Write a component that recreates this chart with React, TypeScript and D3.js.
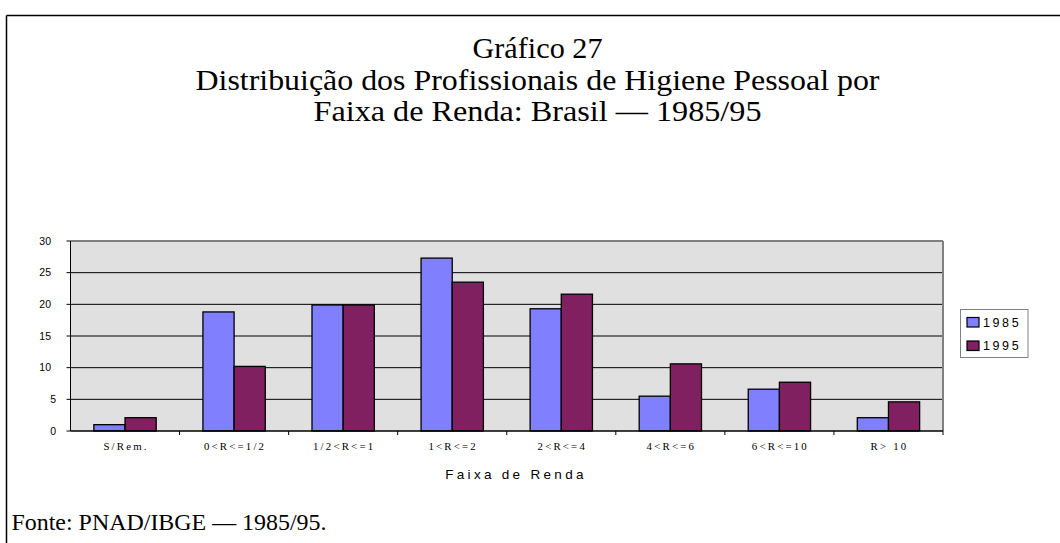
import React from "react";
import * as d3 from "d3";

const categories = ["S/Rem.", "0<R<=1/2", "1/2<R<=1", "1<R<=2", "2<R<=4", "4<R<=6", "6<R<=10", "R> 10"];
const seriesNames = ["1985", "1995"];
const values1985 = [1.0, 18.8, 19.9, 27.3, 19.3, 5.5, 6.6, 2.1];
const values1995 = [2.1, 10.2, 19.9, 23.5, 21.6, 10.6, 7.7, 4.6];
const yTicks = [0, 5, 10, 15, 20, 25, 30];
const colors = ["#8080FF", "#802060"];
const titleLines = ["Gráfico 27", "Distribuição dos Profissionais de Higiene Pessoal por", "Faixa de Renda: Brasil — 1985/95"];
const titleWidths = [130, 684, 448];

export default function App() {
  const W = 1060, H = 543;
  const left = 70.5, right = 943, top = 241, bottom = 431;
  const x = d3.scaleBand<string>().domain(categories).range([left, right]).paddingInner(0).paddingOuter(0);
  const xs = d3.scaleBand<string>().domain(seriesNames).range([0, x.bandwidth()]).paddingInner(0).paddingOuter(0.75);
  const y = d3.scaleLinear().domain([0, 30]).range([bottom, top]);
  const data = [values1985, values1995];
  const serif = "'Liberation Serif', 'Times New Roman', serif";
  const sans = "'Liberation Sans', Arial, sans-serif";

  return (
    <svg width={W} height={H} style={{ position: "absolute", left: 0, top: 0, background: "#fff" }}>
      {/* outer frame (top and left) */}
      <line x1={6.5} x2={W} y1={15.5} y2={15.5} stroke="#000" strokeWidth={1.5} />
      <line x1={6.5} x2={6.5} y1={15.5} y2={H} stroke="#000" strokeWidth={1.5} />

      {titleLines.map((t, i) => (
        <text key={i} x={537.5} y={58 + i * 31.5} textAnchor="middle" fontFamily={serif} fontSize={29.5}
          textLength={titleWidths[i]} lengthAdjust="spacingAndGlyphs" fill="#000">{t}</text>
      ))}

      {/* plot area */}
      <rect x={left} y={top} width={right - left} height={bottom - top} fill="#E0E0E0" />
      {yTicks.slice(1, -1).map((t) => (
        <line key={t} x1={left} x2={right} y1={y(t)} y2={y(t)} stroke="#000" strokeWidth={1} />
      ))}
      <line x1={left} x2={right} y1={top} y2={top} stroke="#808080" strokeWidth={2} />
      <line x1={right} x2={right} y1={top} y2={bottom} stroke="#808080" strokeWidth={2} />

      {/* bars */}
      {categories.map((c, ci) =>
        seriesNames.map((s, si) => {
          const v = data[si][ci];
          const bx = (x(c) as number) + (xs(s) as number);
          return (
            <rect key={c + s} x={bx} y={y(v)} width={xs.bandwidth()} height={bottom - y(v)}
              fill={colors[si]} stroke="#000" strokeWidth={1.3} />
          );
        })
      )}

      {/* axes */}
      <line x1={left} x2={left} y1={top} y2={bottom} stroke="#000" strokeWidth={1} />
      <line x1={left} x2={right} y1={bottom} y2={bottom} stroke="#000" strokeWidth={1.5} />
      {yTicks.map((t) => (
        <g key={t}>
          <line x1={left - 4} x2={left} y1={y(t)} y2={y(t)} stroke="#000" strokeWidth={1} />
          <text x={t >= 10 ? 51 : 56} y={y(t) + 3.6} textAnchor="end" fontFamily={sans} fontSize={10.5} fill="#000">{t}</text>
        </g>
      ))}
      {categories.map((c) => (
        <line key={"tk" + c} x1={(x(c) as number) + x.bandwidth()} x2={(x(c) as number) + x.bandwidth()}
          y1={bottom} y2={bottom + 4} stroke="#000" strokeWidth={1} />
      ))}
      {categories.map((c) => (
        <text key={"lb" + c} x={(x(c) as number) + x.bandwidth() / 2 + 1} y={450} textAnchor="middle"
          fontFamily={serif} fontSize={10.8} letterSpacing={2.2} fill="#000">{c}</text>
      ))}
      <text x={516} y={479} textAnchor="middle" fontFamily={sans} fontSize={13.5} letterSpacing={3.3} fill="#000">Faixa de Renda</text>

      {/* legend */}
      <rect x={960.5} y={309.5} width={67.5} height={48} fill="#fff" stroke="#808080" strokeWidth={1} />
      {seriesNames.map((s, si) => (
        <g key={s}>
          <rect x={967} y={317.5 + si * 23.5} width={12} height={9.5} fill={colors[si]} stroke="#000" strokeWidth={1.2} />
          <text x={983} y={327 + si * 22.5} fontFamily={sans} fontSize={12.5} letterSpacing={2.6} fill="#000">{s}</text>
        </g>
      ))}

      <text x={11.5} y={530} fontFamily={serif} fontSize={22.5} textLength={315} lengthAdjust="spacingAndGlyphs" fill="#000">Fonte: PNAD/IBGE — 1985/95.</text>
    </svg>
  );
}
